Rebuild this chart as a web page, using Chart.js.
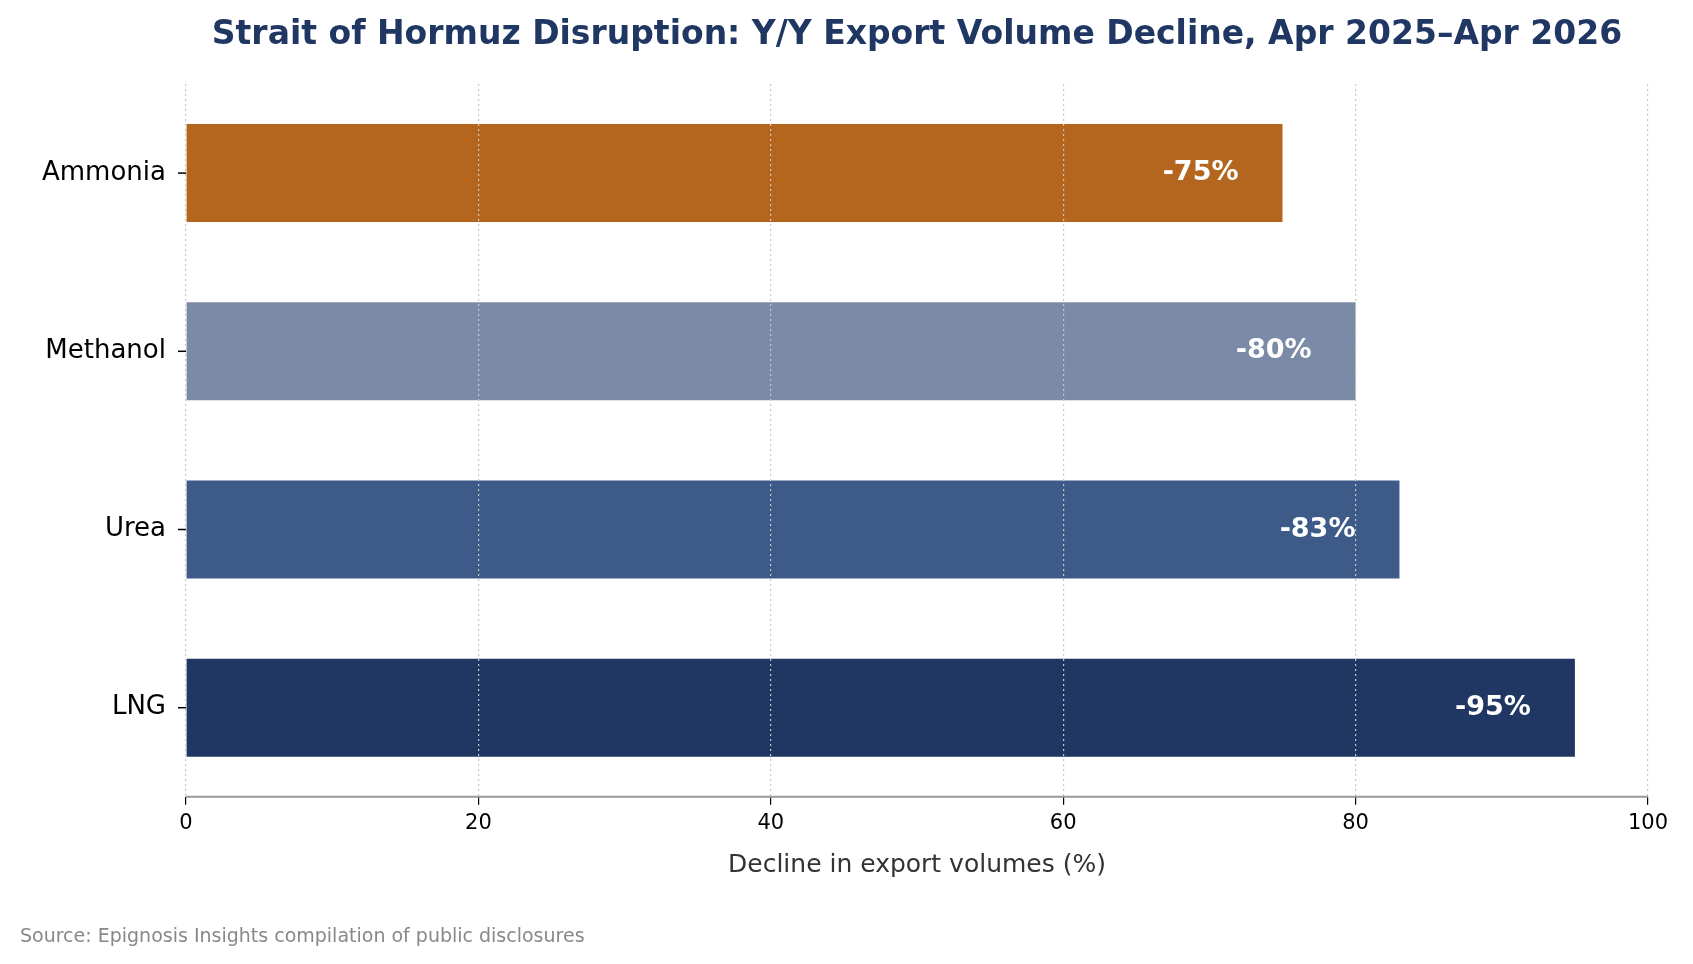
<!DOCTYPE html>
<html>
<head>
<meta charset="utf-8">
<script src="https://cdn.jsdelivr.net/npm/chart.js@4"></script>
<style>
  body { margin: 0; background: #fff; }
  #wrap { width: 1693px; height: 964px; position: relative; }
  #source { position: absolute; left: 20px; top: 924px; font: 19px "DejaVu Sans"; color: #888; }
</style>
</head>
<body>
<div id="wrap">
  <canvas id="chart" width="1693" height="964"></canvas>
  <div id="source">Source: Epignosis Insights compilation of public disclosures</div>
</div>
<script>
const categories = ['Ammonia', 'Methanol', 'Urea', 'LNG'];
const declines = [75, 80, 83, 95];
const barColors = ['#b4651e', '#7b8aa6', '#3d5a88', '#1f3762'];
const xTicks = [0, 20, 40, 60, 80, 100];
const titleText = 'Strait of Hormuz Disruption: Y/Y Export Volume Decline, Apr 2025\u2013Apr 2026';

const barLabels = {
    id: 'barLabels',
    afterDatasetsDraw(chart) {
        const c = chart.ctx;
        const meta = chart.getDatasetMeta(0);
        c.save();
        c.font = 'bold 27px "DejaVu Sans"';
        c.fillStyle = '#fff';
        c.textAlign = 'right';
        c.textBaseline = 'middle';
        meta.data.forEach((bar, i) => {
            c.fillText('-' + declines[i] + '%', bar.x - 44, bar.y);
        });
        c.restore();
    }
};

const decorations = {
    id: 'decorations',
    afterDraw(chart) {
        const c = chart.ctx, y = chart.scales.y, a = chart.chartArea;
        c.save();
        // title centred over plot
        c.font = 'bold 33px "DejaVu Sans"';
        c.fillStyle = '#1f3762';
        c.textAlign = 'center';
        c.textBaseline = 'middle';
        c.fillText(titleText, (a.left + a.right) / 2, 35);
        // y tick marks
        c.strokeStyle = '#000'; c.lineWidth = 1.5;
        categories.forEach((_, i) => {
            const p = y.getPixelForTick(i);
            c.beginPath(); c.moveTo(a.left - 8, p); c.lineTo(a.left, p); c.stroke();
        });
        // x axis line
        c.strokeStyle = '#999'; c.lineWidth = 2;
        c.beginPath(); c.moveTo(a.left, a.bottom); c.lineTo(a.right, a.bottom); c.stroke();
        c.restore();
    }
};

new Chart(document.getElementById('chart').getContext('2d'), {
    type: 'bar',
    data: {
        labels: categories,
        datasets: [{
            data: declines,
            backgroundColor: barColors,
            categoryPercentage: 1,
            barPercentage: 0.55,
        }]
    },
    options: {
        indexAxis: 'y',
        responsive: false,
        animation: false,
        layout: { padding: { left: 30, right: 45, top: 84, bottom: 80 } },
        plugins: {
            legend: { display: false },
            tooltip: { enabled: false },
            title: { display: false }
        },
        scales: {
            x: {
                min: 0, max: 100,
                afterBuildTicks: axis => { axis.ticks = xTicks.map(v => ({ value: v })); },
                border: { display: false, dash: [2, 3] },
                grid: { color: '#c8c8c8', z: 1, drawTicks: true, tickColor: '#000', tickLength: 8, lineWidth: 1.2 },
                ticks: { color: '#000', font: { family: 'DejaVu Sans', size: 21 }, padding: 6 },
                title: { display: true, text: 'Decline in export volumes (%)', color: '#333', font: { family: 'DejaVu Sans', size: 25 }, padding: { top: 8 } }
            },
            y: {
                border: { display: false },
                grid: { display: false },
                ticks: { color: '#000', font: { family: 'DejaVu Sans', size: 26 }, padding: 12 }
            }
        }
    },
    plugins: [barLabels, decorations]
});
</script>
</body>
</html>
